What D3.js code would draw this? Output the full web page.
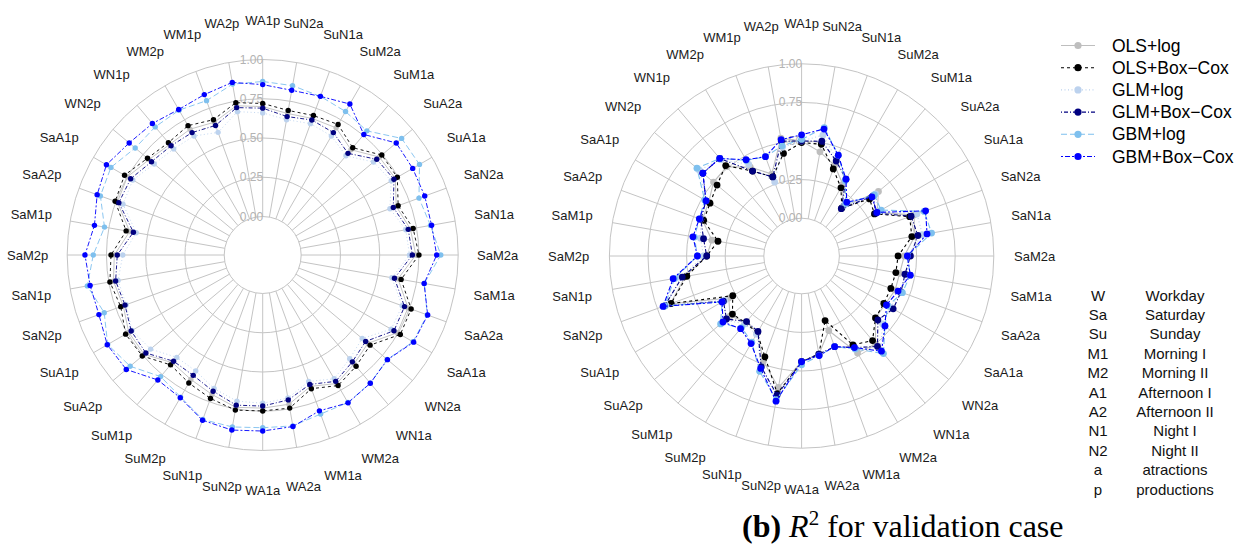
<!DOCTYPE html>
<html><head><meta charset="utf-8">
<script src="https://cdn.jsdelivr.net/npm/d3@7/dist/d3.min.js"></script>
<style>
body{margin:0;background:#fff}
svg{display:block}
text.sans{font-family:"Liberation Sans",Arial,Helvetica,sans-serif}
text.serif{font-family:"Liberation Serif","Times New Roman",Times,serif}
</style>
</head><body>
<svg id="chart" width="1236" height="546"></svg>
<script>
// ---------------- DATA ----------------
const categories = ["WA1p","SuN2a","SuN1a","SuM2a","SuM1a","SuA2a","SuA1a","SaN2a","SaN1a","SaM2a","SaM1a","SaA2a","SaA1a","WN2a","WN1a","WM2a","WM1a","WA2a","WA1a","SuN2p","SuN1p","SuM2p","SuM1p","SuA2p","SuA1p","SaN2p","SaN1p","SaM2p","SaM1p","SaA2p","SaA1p","WN2p","WN1p","WM2p","WM1p","WA2p"];
const tickValues = [0, 0.25, 0.5, 0.75, 1];
const tickLabels = ["0.00","0.25","0.50","0.75","1.00"];
const seriesNames = ["OLS+log","OLS+Box\u2212Cox","GLM+log","GLM+Box\u2212Cox","GBM+log","GBM+Box\u2212Cox"];

// left panel (calibration)
const calOLSlog = [0.70,0.67,0.68,0.69,0.63,0.725,0.73,0.66,0.71,0.73,0.63,0.74,0.745,0.63,0.66,0.70,0.645,0.72,0.73,0.74,0.70,0.67,0.65,0.74,0.74,0.70,0.72,0.70,0.615,0.74,0.75,0.70,0.675,0.68,0.655,0.72];
const calOLSbc  = [0.72,0.69,0.70,0.715,0.647,0.745,0.745,0.673,0.728,0.75,0.65,0.761,0.767,0.648,0.68,0.715,0.661,0.745,0.748,0.758,0.727,0.696,0.668,0.756,0.763,0.717,0.743,0.721,0.638,0.755,0.771,0.713,0.689,0.706,0.672,0.74];
const calGLMlog = [0.66,0.63,0.645,0.63,0.58,0.676,0.70,0.617,0.68,0.69,0.59,0.70,0.70,0.582,0.617,0.665,0.612,0.68,0.699,0.70,0.66,0.608,0.606,0.687,0.716,0.68,0.69,0.646,0.573,0.702,0.71,0.657,0.637,0.63,0.586,0.682];
const calGLMbc  = [0.69,0.65,0.67,0.655,0.60,0.703,0.72,0.64,0.696,0.708,0.607,0.716,0.72,0.611,0.643,0.684,0.632,0.692,0.717,0.726,0.678,0.64,0.638,0.726,0.722,0.688,0.706,0.681,0.591,0.73,0.726,0.679,0.663,0.655,0.633,0.708];
const calGBMlog = [0.86,0.85,0.83,0.81,0.787,0.91,0.908,0.814,0.84,0.889,0.80,0.87,0.86,0.79,0.82,0.84,0.833,0.86,0.855,0.867,0.87,0.80,0.766,0.857,0.895,0.829,0.889,0.834,0.778,0.855,0.871,0.815,0.82,0.82,0.801,0.86];
const calGBMbc  = [0.84,0.82,0.83,0.865,0.757,0.865,0.858,0.853,0.847,0.863,0.799,0.873,0.865,0.792,0.821,0.842,0.811,0.864,0.876,0.887,0.875,0.805,0.794,0.889,0.898,0.865,0.871,0.887,0.843,0.877,0.904,0.865,0.848,0.825,0.842,0.871];

// right panel (validation)
const valOLSlog = [0.50,0.44,0.38,0.29,0.17,0.405,0.32,0.53,0.50,0.42,0.40,0.40,0.38,0.38,0.50,0.48,0.27,0.40,0.44,0.62,0.48,0.33,0.31,0.36,0.30,0.66,0.52,0.37,0.345,0.44,0.45,0.50,0.51,0.42,0.32,0.53];
const valOLSbc  = [0.49,0.49,0.355,0.265,0.16,0.33,0.30,0.50,0.48,0.38,0.375,0.37,0.37,0.38,0.47,0.42,0.20,0.40,0.44,0.66,0.45,0.33,0.32,0.34,0.27,0.655,0.51,0.37,0.305,0.43,0.44,0.47,0.52,0.39,0.30,0.43];
const valGLMlog = [0.50,0.55,0.42,0.32,0.18,0.38,0.33,0.55,0.55,0.44,0.45,0.44,0.42,0.44,0.55,0.45,0.38,0.40,0.44,0.68,0.52,0.34,0.33,0.40,0.33,0.69,0.55,0.39,0.42,0.45,0.47,0.62,0.57,0.44,0.265,0.47];
const valGLMbc  = [0.50,0.51,0.41,0.33,0.155,0.36,0.31,0.51,0.52,0.46,0.435,0.44,0.44,0.40,0.52,0.44,0.38,0.40,0.44,0.67,0.52,0.32,0.31,0.39,0.34,0.70,0.54,0.37,0.40,0.45,0.47,0.59,0.58,0.39,0.30,0.51];
const valGBMlog = [0.51,0.60,0.45,0.32,0.20,0.37,0.35,0.60,0.61,0.44,0.47,0.45,0.40,0.46,0.58,0.45,0.38,0.41,0.46,0.70,0.55,0.40,0.36,0.44,0.35,0.70,0.59,0.43,0.46,0.46,0.48,0.64,0.58,0.47,0.44,0.48];
const valGBMbc  = [0.54,0.59,0.45,0.33,0.21,0.35,0.32,0.61,0.58,0.44,0.47,0.42,0.39,0.46,0.56,0.44,0.38,0.41,0.44,0.71,0.53,0.41,0.37,0.42,0.35,0.71,0.60,0.43,0.47,0.46,0.47,0.59,0.58,0.475,0.44,0.52];

const abbrCodes = ["W","Sa","Su","M1","M2","A1","A2","N1","N2","a","p"];
const abbrMeanings = ["Workday","Saturday","Sunday","Morning I","Morning II","Afternoon I","Afternoon II","Night I","Night II","atractions","productions"];

// ---------------- STYLES ----------------
const colors = ["#bebebe","#000000","#bcd2ee","#000080","#7ec0ee","#0000ff"];
const dashes = [null,"3,3","1,2.5","1,2,4,2","6,3","2,2,5,2"];

const svg = d3.select("#chart");

function drawRadar(cx, cy, r0, r1, labelR, seriesData, ptR, lw) {
  const g = svg.append("g").attr("transform", `translate(${cx},${cy})`);
  const n = categories.length;
  const angle = d3.scaleLinear().domain([0, n]).range([0, 2 * Math.PI]);
  const r = d3.scaleLinear().domain([0, 1]).range([r0, r1]);

  g.selectAll("circle.grid").data(tickValues).join("circle")
    .attr("r", d => r(d)).attr("fill", "none")
    .attr("stroke", "#c4c4c4").attr("stroke-width", 1);
  g.selectAll("line.spoke").data(categories).join("line")
    .attr("x1", (d, i) => r(0) * Math.sin(angle(i)))
    .attr("y1", (d, i) => -r(0) * Math.cos(angle(i)))
    .attr("x2", (d, i) => r(1) * Math.sin(angle(i)))
    .attr("y2", (d, i) => -r(1) * Math.cos(angle(i)))
    .attr("stroke", "#c4c4c4").attr("stroke-width", 1);
  g.selectAll("text.tick").data(tickValues).join("text")
    .attr("class", "sans")
    .attr("x", 0.5).attr("y", d => -r(d))
    .attr("text-anchor", "end").attr("dominant-baseline", "central")
    .attr("font-size", 12).attr("fill", "#b3b3b3")
    .text((d, i) => tickLabels[i]);
  g.selectAll("text.cat").data(categories).join("text")
    .attr("class", "sans")
    .attr("x", (d, i) => labelR * Math.sin(angle(i)))
    .attr("y", (d, i) => -labelR * Math.cos(angle(i)))
    .attr("text-anchor", "middle").attr("dominant-baseline", "central")
    .attr("font-size", 13).attr("fill", "#1a1a1a")
    .text(d => d);

  const line = d3.lineRadial()
    .angle((d, i) => angle(i)).radius(d => r(d))
    .curve(d3.curveLinearClosed);

  seriesData.forEach((vals, s) => {
    g.append("path").datum(vals)
      .attr("d", line).attr("fill", "none")
      .attr("stroke", colors[s]).attr("stroke-width", lw)
      .attr("stroke-dasharray", dashes[s]);
    g.append("g").selectAll("circle").data(vals).join("circle")
      .attr("cx", (d, i) => r(d) * Math.sin(angle(i)))
      .attr("cy", (d, i) => -r(d) * Math.cos(angle(i)))
      .attr("r", ptR).attr("fill", colors[s]);
  });
}

drawRadar(262.7, 255, 38.5, 195.5, 235,
  [calOLSlog, calOLSbc, calGLMlog, calGLMbc, calGBMlog, calGBMbc], 2.7, 0.9);
drawRadar(801.6, 256, 37.8, 192.2, 233,
  [valOLSlog, valOLSbc, valGLMlog, valGLMbc, valGBMlog, valGBMbc], 3.4, 1.1);

// ---------------- LEGEND ----------------
const leg = svg.append("g");
const legY = d3.scaleLinear().domain([0, 1]).range([45.5, 67.7]);
seriesNames.forEach((name, s) => {
  const y = legY(s);
  leg.append("line").attr("x1", 1061).attr("x2", 1095).attr("y1", y).attr("y2", y)
    .attr("stroke", colors[s]).attr("stroke-width", 1.1).attr("stroke-dasharray", dashes[s]);
  leg.append("circle").attr("cx", 1078).attr("cy", y).attr("r", 3.6).attr("fill", colors[s]);
  leg.append("text").attr("class", "sans").attr("x", 1112).attr("y", y).attr("dominant-baseline", "central")
    .attr("font-size", 17.5).attr("fill", "#000").text(name);
});

// ---------------- ABBREVIATION TABLE ----------------
const tab = svg.append("g");
const rowY = d3.scaleLinear().domain([0, abbrCodes.length - 1]).range([295, 489]);
abbrCodes.forEach((c, i) => {
  tab.append("text").attr("class", "sans").attr("x", 1098).attr("y", rowY(i)).attr("text-anchor", "middle")
    .attr("dominant-baseline", "central").attr("font-size", 15).attr("fill", "#111").text(c);
  tab.append("text").attr("class", "sans").attr("x", 1175).attr("y", rowY(i)).attr("text-anchor", "middle")
    .attr("dominant-baseline", "central").attr("font-size", 15).attr("fill", "#111").text(abbrMeanings[i]);
});

// ---------------- CAPTION ----------------
const cap = svg.append("text").attr("class", "serif").attr("x", 742).attr("y", 537)
  .attr("font-size", 32).attr("fill", "#000");
cap.append("tspan").attr("font-weight", "bold").text("(b)");
cap.append("tspan").text(" ");
cap.append("tspan").attr("font-style", "italic").text("R");
cap.append("tspan").attr("font-size", 21).attr("dy", -12).text("2");
cap.append("tspan").attr("dy", 12).text(" for validation case");
</script>
</body></html>
